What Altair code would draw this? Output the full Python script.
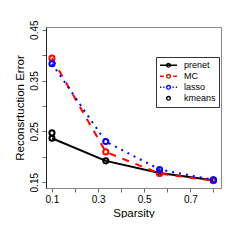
import altair as alt
import pandas as pd

sparsity = [0.1, 0.3333, 0.5667, 0.8]
prenet = [0.2365, 0.192, 0.168, 0.154]
mc = [0.394, 0.2096, 0.167, 0.153]
lasso = [0.383, 0.230, 0.175, 0.1546]
kmeans_x = [0.1]
kmeans = [0.247]

series_names = ["prenet", "MC", "lasso", "kmeans"]
series_colors = ["#000000", "#FF0000", "#0000FF", "#000000"]
series_dash = [None, [7, 7], [2, 5], None]
x_ticks = [0.1, 0.2, 0.3, 0.4, 0.5, 0.6, 0.7, 0.8]
y_ticks = [0.15, 0.2, 0.25, 0.3, 0.35, 0.4, 0.45]

rows = []
for name, xs, ys in [("prenet", sparsity, prenet), ("MC", sparsity, mc),
                     ("lasso", sparsity, lasso), ("kmeans", kmeans_x, kmeans)]:
    for xv, yv in zip(xs, ys):
        rows.append({"series": name, "sparsity": xv, "error": yv})
df = pd.DataFrame(rows)

FONT = "Liberation Sans"

x_enc = alt.X(
    "sparsity:Q",
    scale=alt.Scale(domain=[0.0741, 0.833], nice=False, zero=False),
    axis=alt.Axis(
        values=x_ticks, title="Sparsity",
        labelExpr="round(datum.value*10) % 2 == 1 ? format(datum.value, '.1f') : ''",
        labelPadding=2, titlePadding=3,
    ),
)
y_enc = alt.Y(
    "error:Q",
    scale=alt.Scale(domain=[0.1386, 0.4553], nice=False, zero=False),
    axis=alt.Axis(
        values=y_ticks, title="Reconsrtuction Error",
        labelExpr="round(datum.value*20) % 2 == 1 ? format(datum.value, '.2f') : ''",
        labelAngle=270, labelAlign="center", labelBaseline="bottom",
        labelPadding=3, titlePadding=4, domainColor="#222222",
    ),
)

base = alt.Chart(df)
layers = []
for name, col, dash in zip(series_names, series_colors, series_dash):
    sub = base.transform_filter(alt.datum.series == name)
    if name != "kmeans":
        kw = dict(color=col, strokeWidth=2)
        if dash is not None:
            kw["strokeDash"] = dash
        layers.append(sub.mark_line(**kw).encode(x=x_enc, y=y_enc))
    layers.append(
        sub.mark_point(shape="circle", filled=False, color=col, size=26,
                       strokeWidth=2, opacity=1).encode(x=x_enc, y=y_enc)
    )

r = 0.22
circ = f"M{-r},0A{r},{r} 0 1,0 {r},0A{r},{r} 0 1,0 {-r},0"
legend_paths = [
    "M-1,0H1" + circ,
    "M-1,0H-0.55M0.55,0H1" + circ,
    "M-1,0H-0.85M-0.62,0H-0.47M0.47,0H0.62M0.85,0H1" + circ,
    circ,
]

leg = dict(
    title=None, orient="none", legendX=110, legendY=30,
    fillColor="white", strokeColor="#333333", padding=3,
    symbolSize=289, symbolStrokeWidth=1.4, labelFontSize=9, labelFont=FONT,
    labelOffset=6, clipHeight=10.6, rowPadding=0, cornerRadius=0,
    symbolOpacity=1, labelColor="black",
)
legend_layer = base.transform_filter("false").mark_point(
    filled=False, strokeWidth=1.4, opacity=1
).encode(
    color=alt.Color("series:N", scale=alt.Scale(domain=series_names, range=series_colors),
                    legend=alt.Legend(**leg)),
    shape=alt.Shape("series:N", scale=alt.Scale(domain=series_names, range=legend_paths),
                    legend=alt.Legend(**leg)),
)
layers.append(legend_layer)

chart = alt.layer(*layers).properties(
    width=175, height=161,
    autosize=alt.AutoSizeParams(type="none"),
    padding={"left": 38, "top": 19, "right": 16, "bottom": 30},
    background="white",
).configure_view(
    stroke="#888888", strokeWidth=1,
).configure_axis(
    grid=False, tickSize=4, tickColor="#666666", domainColor="#888888",
    labelFont=FONT, titleFont=FONT, labelFontSize=10, titleFontSize=11.5,
    labelColor="black", titleColor="black", titleFontWeight="normal",
)

chart.save("out.html", embed_options={"renderer": "svg", "actions": False})
